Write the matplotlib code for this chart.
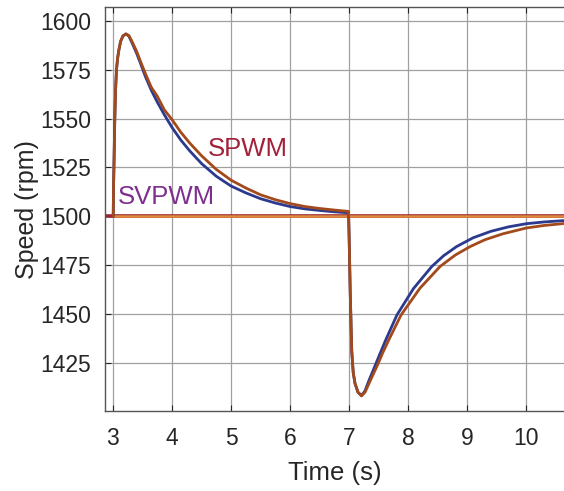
import matplotlib
matplotlib.use("Agg")
import matplotlib.pyplot as plt

plt.rcParams['font.family'] = ['Liberation Sans', 'DejaVu Sans']

# SPWM speed response (s, rpm)
t_spwm = [3.0, 3.005, 3.01, 3.02, 3.03, 3.045, 3.06, 3.08, 3.1, 3.13, 3.17, 3.22, 3.27, 3.33,
          3.4, 3.47, 3.55, 3.65, 3.75, 3.87, 4.0, 4.15, 4.3, 4.5, 4.75, 5.0, 5.25, 5.5, 5.75,
          6.0, 6.25, 6.5, 6.75, 6.99,
          7.0, 7.02, 7.045, 7.07, 7.1, 7.15, 7.21, 7.27, 7.36, 7.49, 7.57, 7.67, 7.88, 8.2,
          8.54, 8.8, 9.05, 9.3, 9.6, 10.0, 10.3, 10.64]
v_spwm = [1500, 1500, 1515, 1530, 1548, 1565, 1575, 1581, 1585, 1589.5, 1592.3, 1593.3, 1592.5,
          1589, 1584.5, 1579, 1573, 1566, 1561.5, 1554.5, 1549.5, 1543, 1537.5, 1531, 1524,
          1518.5, 1514.5, 1511, 1508.5, 1506.5, 1505, 1504, 1503.2, 1502.5,
          1490, 1460, 1431, 1420, 1414.5, 1410, 1408.1, 1410, 1416, 1424.5, 1430.2, 1436.6,
          1449.5, 1463.2, 1474.3, 1480.2, 1484.5, 1488, 1491, 1494, 1495.3, 1496.3]

# SVPWM speed response (s, rpm)
t_svpwm = [3.0, 3.005, 3.01, 3.02, 3.03, 3.045, 3.06, 3.08, 3.1, 3.13, 3.17, 3.22, 3.27, 3.33,
           3.4, 3.47, 3.55, 3.65, 3.75, 3.87, 4.0, 4.15, 4.3, 4.5, 4.75, 5.0, 5.25, 5.5, 5.75,
           6.0, 6.25, 6.5, 6.75, 6.99,
           7.0, 7.02, 7.045, 7.07, 7.1, 7.15, 7.21, 7.27, 7.33, 7.45, 7.53, 7.61, 7.81, 8.09,
           8.4, 8.6, 8.82, 9.1, 9.4, 9.7, 10.0, 10.3, 10.64]
v_svpwm = [1500, 1500, 1515, 1530, 1548, 1565, 1575, 1581, 1585, 1589.5, 1592.3, 1593.3, 1592.2,
           1588.3, 1583.5, 1578, 1571.5, 1564.5, 1558.5, 1552, 1545.5, 1539, 1533.5, 1527,
           1520.5, 1515.5, 1512, 1509, 1506.8, 1505, 1503.8, 1503, 1502.3, 1501.8,
           1490, 1460, 1431, 1420, 1414.5, 1410, 1408.3, 1410.7, 1415.5, 1424.3, 1430.2, 1436,
           1449.5, 1463, 1474.3, 1479.8, 1484.5, 1489, 1492.3, 1494.6, 1496.2, 1497.1, 1497.8]

# Reference speed
t_ref = [2.86, 10.64]
v_ref = [1500, 1500]
t_ref2 = [3.0, 10.64]
v_ref2 = [1500, 1500]

x_ticks = [3, 4, 5, 6, 7, 8, 9, 10]
y_ticks = [1425, 1450, 1475, 1500, 1525, 1550, 1575, 1600]

fig = plt.figure(figsize=(5.64, 4.91), dpi=100)
ax = fig.add_axes([0.186, 0.163, 0.814, 0.822])

ax.plot(t_ref, v_ref, color='#9B2335', lw=2.6, zorder=2, solid_capstyle='butt')
ax.plot(t_ref2, v_ref2, color='#E08A3C', lw=1.8, zorder=3, solid_capstyle='butt')
ax.plot(t_svpwm, v_svpwm, color='#2B3A8F', lw=2.0, zorder=4)
ax.plot(t_spwm, v_spwm, color='#A34A1C', lw=2.0, zorder=5)

ax.text(4.6, 1534.5, 'SPWM', color='#A2203A', fontsize=18.5, va='center', ha='left', zorder=6)
ax.text(3.08, 1510, 'SVPWM', color='#7E2F8E', fontsize=18.5, va='center', ha='left', zorder=6)

ax.set_xlim(2.864, 10.64)
ax.set_ylim(1400.4, 1606.9)
ax.set_xticks(x_ticks)
ax.set_yticks(y_ticks)
ax.tick_params(direction='in', labelsize=16.5, colors='#262626', length=4, width=0.8,
               top=True, right=False)
ax.tick_params(axis='x', pad=11.5)
ax.tick_params(axis='y', pad=10)
ax.grid(True, color='#a0a0a0', lw=0.9)
ax.set_axisbelow(True)
for s in ['left', 'bottom', 'top']:
    ax.spines[s].set_color('#555555')
    ax.spines[s].set_linewidth(1.0)
ax.spines['right'].set_visible(False)

ax.set_xlabel('Time (s)', fontsize=18.5, color='#262626', labelpad=8)
ax.set_ylabel('Speed (rpm)', fontsize=18, color='#262626', labelpad=1)

fig.savefig('out.png', dpi=100)
